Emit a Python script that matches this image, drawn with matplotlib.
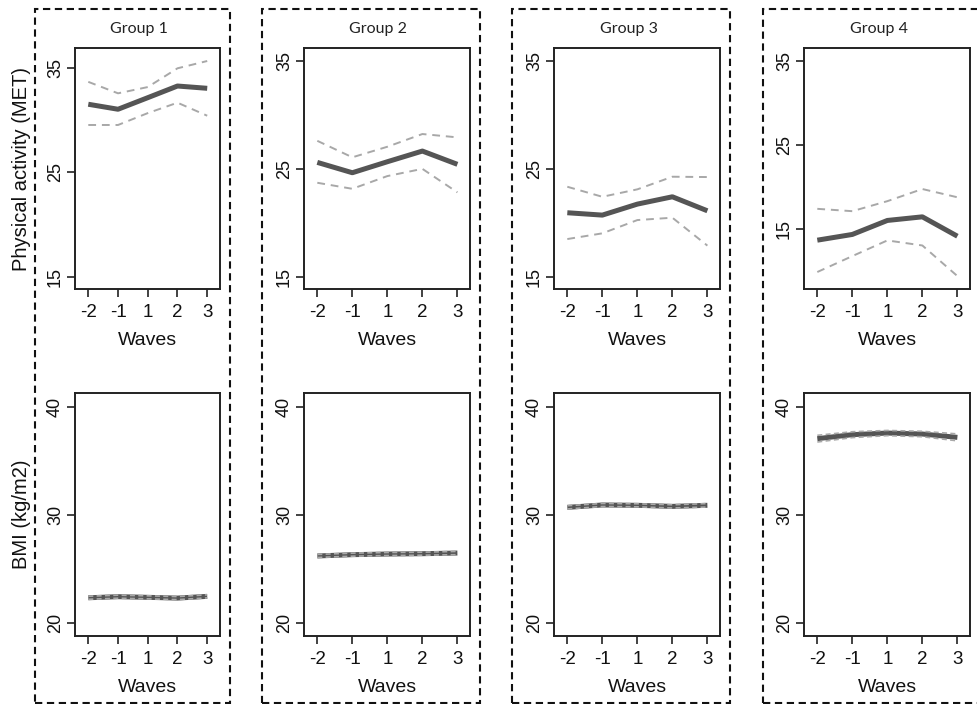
import matplotlib
matplotlib.use("Agg")
import matplotlib.pyplot as plt
from matplotlib.patches import Rectangle

waves = ["-2", "-1", "1", "2", "3"]
groups = ["Group 1", "Group 2", "Group 3", "Group 4"]

# Physical activity (MET): estimate, lower CI, upper CI
pa_mean = [
    [31.55, 31.07, 32.18, 33.30, 33.08],
    [25.60, 24.64, 25.66, 26.65, 25.42],
    [20.93, 20.71, 21.73, 22.41, 21.11],
    [13.73, 14.41, 16.07, 16.50, 14.20],
]
pa_upper = [
    [33.70, 32.60, 33.20, 35.00, 35.70],
    [27.60, 26.07, 27.05, 28.23, 27.92],
    [23.34, 22.41, 23.10, 24.27, 24.24],
    [17.45, 17.17, 18.36, 19.80, 18.82],
]
pa_lower = [
    [29.56, 29.56, 30.70, 31.70, 30.45],
    [23.71, 23.15, 24.33, 25.00, 22.82],
    [18.49, 19.02, 20.25, 20.47, 17.88],
    [9.95, 11.84, 13.70, 13.10, 9.47],
]

# BMI (kg/m2)
bmi_mean = [
    [22.31, 22.41, 22.35, 22.28, 22.44],
    [26.18, 26.30, 26.36, 26.39, 26.45],
    [30.68, 30.90, 30.87, 30.77, 30.87],
    [37.04, 37.41, 37.56, 37.47, 37.16],
]
bmi_upper = [
    [22.45, 22.55, 22.49, 22.42, 22.58],
    [26.32, 26.44, 26.50, 26.53, 26.60],
    [30.83, 31.04, 31.01, 30.92, 31.03],
    [37.35, 37.68, 37.80, 37.72, 37.48],
]
bmi_lower = [
    [22.17, 22.27, 22.21, 22.14, 22.30],
    [26.04, 26.16, 26.22, 26.25, 26.30],
    [30.53, 30.76, 30.73, 30.62, 30.71],
    [36.73, 37.14, 37.32, 37.22, 36.84],
]

pa_ylims = [(13.79, 36.92), (13.83, 36.18), (13.83, 36.18), (7.9, 36.5)]
bmi_ylim = (18.77, 41.24)
pa_ticks = [15, 25, 35]
bmi_ticks = [20, 30, 40]

W, H = 977, 704
fig = plt.figure(figsize=(W / 100, H / 100), dpi=100)
fig.patch.set_facecolor("white")

axes_x = [(75, 220), (304, 470), (554, 720), (804, 970)]
top_y = (48.3, 289.3)
bot_y = (393.3, 636.0)
xlims = [(0.553, 5.43), (0.62, 5.36), (0.62, 5.36), (0.62, 5.36)]

boxes_x = [(35, 230), (262.3, 480), (512.3, 730), (762.7, 980.4)]
box_y = (9.3, 703.3)
title_x = [139, 378, 628.7, 879]

FONT = "Liberation Sans"
MAIN_C = "#555555"
CI_C = "#a8a8a8"
FRAME_C = "#222222"
TXT_C = "#111111"


def make_ax(xr, yr):
    left = xr[0] / W
    width = (xr[1] - xr[0]) / W
    bottom = (H - yr[1]) / H
    height = (yr[1] - yr[0]) / H
    return fig.add_axes([left, bottom, width, height])


def style(ax, yticks, ylim, xlim, yr, xlab_center_px):
    x = list(range(1, len(waves) + 1))
    ax.set_xlim(*xlim)
    ax.set_ylim(*ylim)
    ax.set_xticks(x)
    ax.set_xticklabels(waves, fontsize=13.5, family=FONT)
    ax.set_yticks(yticks)
    ax.set_yticklabels([str(t) for t in yticks], fontsize=13, family=FONT)
    for lab in ax.get_yticklabels():
        lab.set_rotation(90)
        lab.set_va("center")
        lab.set_ha("right")
    ax.tick_params(axis="both", direction="out", length=5.5, width=1.2,
                   color=FRAME_C, labelcolor=TXT_C)
    ax.tick_params(axis="x", pad=5)
    ax.tick_params(axis="y", pad=2.5)
    for s in ax.spines.values():
        s.set_linewidth(1.4)
        s.set_color(FRAME_C)
    ax.set_xlabel("Waves", fontsize=14, family=FONT, color=TXT_C)
    hpx = yr[1] - yr[0]
    ax.xaxis.set_label_coords(0.5, -(xlab_center_px - yr[1]) / hpx)
    ax.xaxis.label.set_va("center")


for g in range(4):
    x = list(range(1, len(waves) + 1))
    ax = make_ax(axes_x[g], top_y)
    ax.plot(x, pa_upper[g], color=CI_C, lw=1.4, ls=(0, (4, 3)))
    ax.plot(x, pa_lower[g], color=CI_C, lw=1.4, ls=(0, (4, 3)))
    ax.plot(x, pa_mean[g], color=MAIN_C, lw=3.6, solid_capstyle="butt")
    style(ax, pa_ticks, pa_ylims[g], xlims[g], top_y, 340)
    wpx = axes_x[g][1] - axes_x[g][0]
    if g == 0:
        ax.set_ylabel("Physical activity (MET)", fontsize=14.5, family=FONT, color=TXT_C)
        ax.yaxis.set_label_coords(-(axes_x[g][0] - 21.7) / wpx, 0.5)
        ax.yaxis.label.set_va("center")

    ax2 = make_ax(axes_x[g], bot_y)
    ax2.plot(x, bmi_mean[g], color=MAIN_C, lw=3.6, solid_capstyle="butt")
    ax2.plot(x, bmi_upper[g], color=CI_C, lw=1.2, ls=(0, (3, 2)))
    ax2.plot(x, bmi_lower[g], color=CI_C, lw=1.2, ls=(0, (3, 2)))
    style(ax2, bmi_ticks, bmi_ylim, xlims[g], bot_y, 688)
    if g == 0:
        ax2.set_ylabel("BMI (kg/m2)", fontsize=14.5, family=FONT, color=TXT_C)
        ax2.yaxis.set_label_coords(-(axes_x[g][0] - 21.7) / wpx, 0.5)
        ax2.yaxis.label.set_va("center")

    bx = boxes_x[g]
    rect = Rectangle((bx[0] / W, (H - box_y[1]) / H),
                     (bx[1] - bx[0]) / W, (box_y[1] - box_y[0]) / H,
                     transform=fig.transFigure, fill=False, edgecolor=TXT_C,
                     lw=1.5, ls=(0, (3.5, 2.2)), clip_on=False)
    fig.add_artist(rect)
    fig.text(title_x[g] / W, (H - 29.3) / H, groups[g], fontsize=11.5,
             family="Lato", ha="center", va="center", color="#222222")

fig.savefig("out.png", dpi=100, facecolor="white")
